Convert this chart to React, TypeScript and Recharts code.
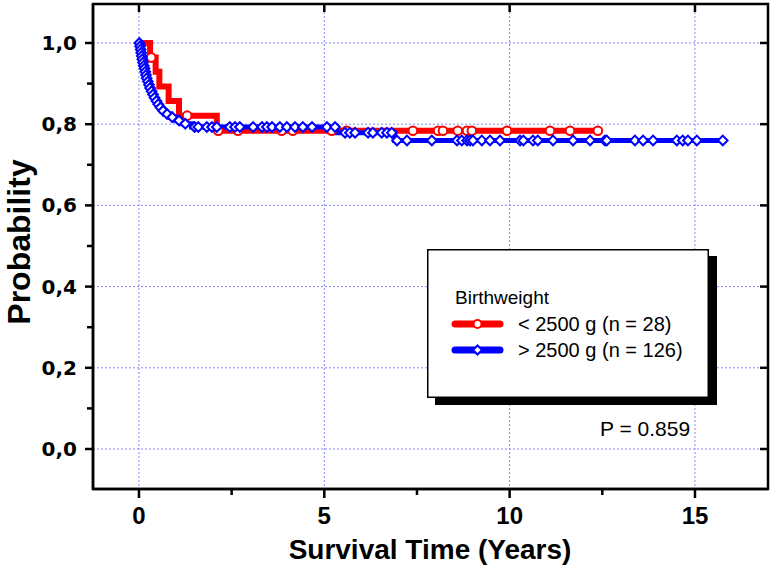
import React from 'react';
import { ComposedChart, Line, Scatter, XAxis, YAxis, CartesianGrid, Legend, Customized, ReferenceLine } from 'recharts';

const FONT = '"Liberation Sans", Arial, Helvetica, sans-serif';
const WIDE_FONT = '"DejaVu Sans", Verdana, sans-serif';

// Kaplan-Meier step curve, < 2500 g (n = 28)
const redTimes = [0, 0.3, 0.45, 0.55, 0.8, 1.08, 2.1, 12.38];
const redSurv = [1.0, 0.964, 0.929, 0.893, 0.857, 0.821, 0.784, 0.784];
const redCensorTimes = [0.33, 1.3, 2.14, 2.67, 3.85, 4.15, 5.2, 5.6, 7.39, 8.07, 8.2, 8.6, 8.85, 8.98, 9.93, 11.09, 11.63, 12.38];

// Kaplan-Meier step curve, > 2500 g (n = 126)
const blueTimes = [0, 0.02, 0.04, 0.05, 0.07, 0.08, 0.1, 0.12, 0.14, 0.16, 0.18, 0.2, 0.23, 0.26, 0.29, 0.32, 0.36, 0.4, 0.45, 0.5, 0.55, 0.61, 0.7, 0.85, 1.0, 1.18, 1.42, 5.33, 6.9, 15.75];
const blueSurv = [1.0, 0.992, 0.984, 0.976, 0.968, 0.96, 0.952, 0.944, 0.937, 0.929, 0.921, 0.913, 0.905, 0.897, 0.889, 0.881, 0.873, 0.865, 0.857, 0.849, 0.841, 0.833, 0.825, 0.817, 0.809, 0.801, 0.793, 0.779, 0.76, 0.76];
const blueCensorTimes = [0.01, 0.03, 0.045, 0.06, 0.075, 0.09, 0.11, 0.13, 0.15, 0.17, 0.19, 0.21, 0.24, 0.27, 0.3, 0.34, 0.38, 0.42, 0.47, 0.52, 0.58, 0.65, 0.76, 0.9, 1.08, 1.25, 1.5, 1.6, 1.83, 1.97, 2.1, 2.45, 2.59, 2.72, 3.08, 3.32, 3.45, 3.59, 3.8, 3.99, 4.21, 4.42, 4.67, 5.07, 5.29, 5.56, 5.69, 5.83, 6.18, 6.31, 6.55, 6.69, 6.82, 6.96, 7.23, 7.9, 8.58, 8.71, 8.85, 8.93, 9.01, 9.25, 9.47, 9.74, 10.28, 10.37, 10.63, 10.76, 11.17, 11.71, 12.17, 12.57, 12.62, 13.38, 13.6, 13.87, 14.51, 14.67, 14.81, 15.05, 15.75];

const xTicks = [0, 5, 10, 15];
const xMinorTicks = [2.5, 7.5, 12.5];
const yTicks = [0, 0.2, 0.4, 0.6, 0.8, 1.0];
const yMinorTicks = [0.1, 0.3, 0.5, 0.7, 0.9];
const xDomain = [-1.24, 16.97];
const yDomain = [-0.0985, 1.096];

const seriesNames = ['< 2500 g (n = 28)', '> 2500 g (n = 126)'];
const legendTitle = 'Birthweight';
const xTitle = 'Survival Time (Years)';
const yTitle = 'Probability';
const pText = 'P = 0.859';

const RED = '#ff0000';
const BLUE = '#0000ff';

// plot box (layout) in pixels
const PLOT = { left: 93, top: 4, width: 675, height: 485 };
const PX_Y = (yDomain[1] - yDomain[0]) / PLOT.height;
const frameX = (v: number) => PLOT.left + ((v - xDomain[0]) / (xDomain[1] - xDomain[0])) * PLOT.width;
const frameY = (v: number) => PLOT.top + ((yDomain[1] - v) / (yDomain[1] - yDomain[0])) * PLOT.height;

const stepAt = (times: number[], surv: number[], t: number) => {
  let v = surv[0];
  for (let i = 0; i < times.length; i++) if (times[i] <= t) v = surv[i];
  return v;
};

const redData = redTimes.map((t, i) => ({ t, s: redSurv[i] }));
const blueData = blueTimes.map((t, i) => ({ t, s: blueSurv[i] }));
const redCensor = redCensorTimes.map((t) => ({ t, s: stepAt(redTimes, redSurv, t) }));
const blueCensor = blueCensorTimes.map((t) => ({ t, s: stepAt(blueTimes, blueSurv, t) }));

const fmtY = (v: number) => v.toFixed(1).replace('.', ',');

const Diamond = (props: any) => {
  const { cx, cy } = props;
  if (cx == null || cy == null) return null;
  const r = 4.8;
  return (
    <path
      d={`M${cx},${cy - r} L${cx + r},${cy} L${cx},${cy + r} L${cx - r},${cy} Z`}
      fill="#ffffff"
      stroke={BLUE}
      strokeWidth={2}
    />
  );
};

const RingDot = (props: any) => {
  const { cx, cy } = props;
  if (cx == null || cy == null) return null;
  return <circle cx={cx} cy={cy} r={4.3} fill="#ffffff" stroke={RED} strokeWidth={2} />;
};

const LegendBox = () => (
  <svg width={292} height={158} style={{ display: 'block', overflow: 'visible' }}>
    <rect x={8} y={7} width={282} height={149} fill="#000" />
    <rect x={0.75} y={0.75} width={280.5} height={147.5} fill="#fff" stroke="#000" strokeWidth={1.5} />
    <text x={28} y={55} fontSize={19} fontFamily={FONT} fill="#000">{legendTitle}</text>
    <line x1={28} x2={73} y1={75} y2={75} stroke={RED} strokeWidth={7} strokeLinecap="round" />
    <circle cx={50.5} cy={75} r={4} fill="#fff" stroke={RED} strokeWidth={2} />
    <text x={91} y={82} fontSize={20} fontFamily={FONT} fill="#000">{seriesNames[0]}</text>
    <line x1={28} x2={73} y1={101} y2={101} stroke={BLUE} strokeWidth={7} strokeLinecap="round" />
    <path d="M50.5,96.5 L55,101 L50.5,105.5 L46,101 Z" fill="#fff" stroke={BLUE} strokeWidth={2} />
    <text x={91} y={108} fontSize={20} fontFamily={FONT} fill="#000">{seriesNames[1]}</text>
  </svg>
);

const FrameAndTitles = () => (
  <g>
    <rect
      x={PLOT.left}
      y={PLOT.top}
      width={PLOT.width}
      height={PLOT.height}
      fill="none"
      stroke="#000"
      strokeWidth={2.5}
    />
    {xTicks.map((v) => (
      <line
        key={`tt${v}`}
        x1={frameX(v)}
        x2={frameX(v)}
        y1={PLOT.top}
        y2={PLOT.top + 8}
        stroke="#000"
        strokeWidth={2.5}
      />
    ))}
    {yTicks.map((v) => (
      <line
        key={`rt${v}`}
        x1={PLOT.left + PLOT.width}
        x2={PLOT.left + PLOT.width - 8}
        y1={frameY(v)}
        y2={frameY(v)}
        stroke="#000"
        strokeWidth={2.5}
      />
    ))}
    <g fontFamily={FONT} fill="#000">
      <text x={430} y={559} textAnchor="middle" fontSize={28} fontWeight="bold">{xTitle}</text>
      <text transform="translate(30,242) rotate(-90)" textAnchor="middle" fontSize={32} fontWeight="bold">{yTitle}</text>
      <text x={600} y={436} fontSize={21}>{pText}</text>
    </g>
  </g>
);

const axisStroke = { stroke: '#000', strokeWidth: 2.5 };
const tickStroke = { stroke: '#000', strokeWidth: 2.5 };
const noLabel = () => '';

export default function App() {
  return (
    <div style={{ position: 'relative', width: 774, height: 572, background: '#fff', overflow: 'hidden' }}>
      <style>{'html,body{margin:0;padding:0;overflow:hidden;background:#fff}'}</style>
      <ComposedChart width={774} height={572} margin={{ top: 4, right: 6, left: 0, bottom: 0 }}>
        <CartesianGrid stroke="#8484ff" strokeDasharray="2 2" strokeWidth={1} />
        <XAxis
          dataKey="t"
          type="number"
          domain={xDomain}
          allowDataOverflow
          ticks={xTicks}
          interval={0}
          height={83}
          axisLine={axisStroke}
          tickLine={tickStroke}
          tickSize={9}
          tickMargin={9}
          tick={{ fontSize: 24, fontWeight: 'bold', fill: '#000', fontFamily: FONT }}
        />
        <YAxis
          dataKey="s"
          type="number"
          domain={yDomain}
          allowDataOverflow
          ticks={yTicks}
          interval={0}
          width={93}
          axisLine={axisStroke}
          tickLine={tickStroke}
          tickSize={8}
          tickMargin={8}
          tickFormatter={fmtY}
          tick={{ fontSize: 20, fontWeight: 'bold', fill: '#000', fontFamily: WIDE_FONT }}
        />
        <YAxis
          yAxisId="minorY"
          orientation="left"
          mirror
          type="number"
          domain={yDomain}
          allowDataOverflow
          ticks={yMinorTicks}
          interval={0}
          width={1}
          axisLine={false}
          tickLine={tickStroke}
          tickSize={-6}
          tickFormatter={noLabel}
        />
        {xMinorTicks.map((v) => (
          <ReferenceLine
            key={`bm${v}`}
            segment={[{ x: v, y: yDomain[0] }, { x: v, y: yDomain[0] - 6 * PX_Y }]}
            stroke="#000"
            strokeWidth={2.5}
            ifOverflow="visible"
          />
        ))}
        <Line
          data={redData}
          dataKey="s"
          type="stepAfter"
          stroke={RED}
          strokeWidth={6}
          dot={false}
          activeDot={false}
          isAnimationActive={false}
          legendType="none"
        />
        <Scatter data={redCensor} dataKey="s" shape={<RingDot />} isAnimationActive={false} legendType="none" />
        <Line
          data={blueData}
          dataKey="s"
          type="stepAfter"
          stroke={BLUE}
          strokeWidth={5}
          dot={false}
          activeDot={false}
          isAnimationActive={false}
          legendType="none"
        />
        <Scatter data={blueCensor} dataKey="s" shape={<Diamond />} isAnimationActive={false} legendType="none" />
        <Legend
          layout="vertical"
          align="center"
          verticalAlign="middle"
          content={() => <LegendBox />}
          wrapperStyle={{ position: 'absolute', left: 427, top: 249, width: 292, height: 158, margin: 0, padding: 0 }}
        />
        <Customized component={FrameAndTitles} />
      </ComposedChart>
    </div>
  );
}
